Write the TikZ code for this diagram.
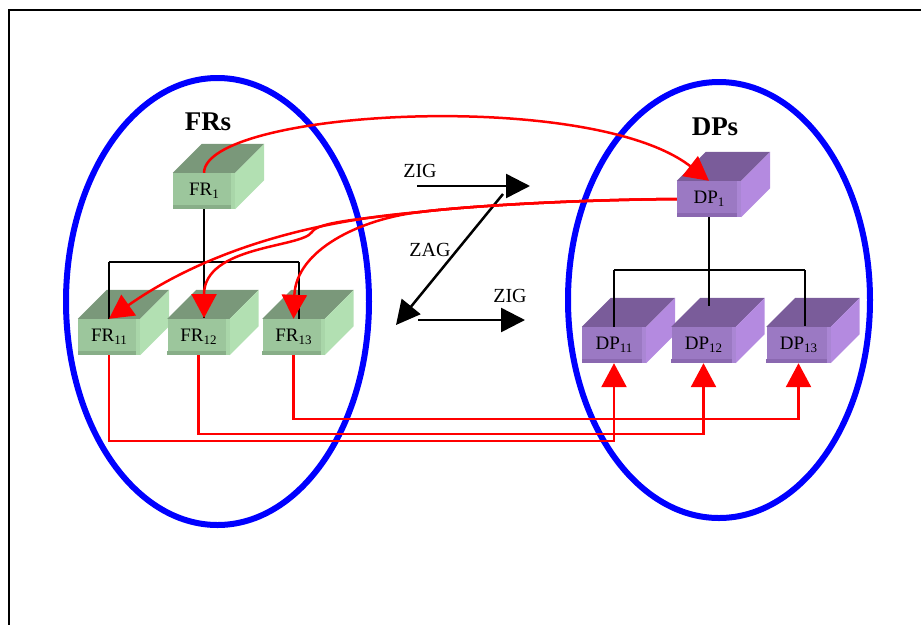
\documentclass[tikz,border=0pt]{standalone}
\usepackage{fontspec}
\setmainfont{Liberation Serif}
\usetikzlibrary{arrows.meta}
\definecolor{frF}{HTML}{9CC69C}
\definecolor{frT}{HTML}{7A987A}
\definecolor{frS}{HTML}{B2E0B2}
\definecolor{frB}{HTML}{88AE88}
\definecolor{frR}{HTML}{A9D6A9}
\definecolor{dpF}{HTML}{9B79C3}
\definecolor{dpT}{HTML}{7A5C9A}
\definecolor{dpS}{HTML}{B48AE0}
\definecolor{dpB}{HTML}{8A68B0}
\definecolor{dpR}{HTML}{AA86D4}
\newcommand\sbs[1]{\raisebox{-2.5pt}{\fontsize{13}{13}\selectfont #1}}
\newcommand\boxfaces[5]{%
  \fill[#2] (#1.north west) -- ++(29,-29) -- ([shift={(29,-29)}]#1.north east) -- (#1.north east) -- cycle;
  \fill[#3] (#1.north east) -- ++(29,-29) -- ([shift={(29,-29)}]#1.south east) -- (#1.south east) -- cycle;
  \fill[#4] (#1.south west) rectangle ([shift={(0,-4)}]#1.south east);
  \fill[#5] ([shift={(-4,0)}]#1.south east) rectangle (#1.north east);
}
\tikzset{
  frbox/.style={fill=frF, minimum width=62pt, minimum height=36pt, inner sep=0pt, font=\fontsize{19}{19}\selectfont},
  dpbox/.style={fill=dpF, minimum width=64pt, minimum height=36pt, inner sep=0pt, font=\fontsize{19}{19}\selectfont},
  redarr/.style={draw=red, line width=2.5pt, -{Triangle[length=24pt,width=25pt]}},
  tree/.style={draw=black, line width=2pt},
  zz/.style={draw=black, line width=2.5pt, -{Triangle[length=24pt,width=24pt]}},
  ell/.style={draw=blue, line width=6pt},
  lbl/.style={font=\fontsize{20}{20}\selectfont, inner sep=0pt},
  ttl/.style={font=\fontsize{27}{27}\selectfont\bfseries, inner sep=0pt}
}
\begin{document}
\begin{tikzpicture}[x=1pt,y=-1pt]
\useasboundingbox (0,0) rectangle (921,625);
% frame
\draw[line width=2pt] (921,10) -- (9,10) -- (9,625);
% ellipses
\draw[ell] (217.5,301.5) ellipse [x radius=151.5, y radius=223.5];
\draw[ell] (719,300) ellipse [x radius=151, y radius=218];
% titles
\node[ttl] (frs) at (208,122) {FRs};
\node[ttl] (dps) at (715,127) {DPs};
% FR boxes
\node[frbox] (FR1) at (204,191) {FR\sbs{1}};
\boxfaces{FR1}{frT}{frS}{frB}{frR}
\node[frbox] (FR11) at (109,337) {FR\sbs{11}};
\boxfaces{FR11}{frT}{frS}{frB}{frR}
\node[frbox] (FR12) at (198.5,337) {FR\sbs{12}};
\boxfaces{FR12}{frT}{frS}{frB}{frR}
\node[frbox] (FR13) at (293.5,337) {FR\sbs{13}};
\boxfaces{FR13}{frT}{frS}{frB}{frR}
% DP boxes
\node[dpbox] (DP1) at (709,199) {DP\sbs{1}};
\boxfaces{DP1}{dpT}{dpS}{dpB}{dpR}
\node[dpbox] (DP11) at (614,345) {DP\sbs{11}};
\boxfaces{DP11}{dpT}{dpS}{dpB}{dpR}
\node[dpbox] (DP12) at (703.5,345) {DP\sbs{12}};
\boxfaces{DP12}{dpT}{dpS}{dpB}{dpR}
\node[dpbox] (DP13) at (798.5,345) {DP\sbs{13}};
\boxfaces{DP13}{dpT}{dpS}{dpB}{dpR}
% FR tree
\coordinate (fj) at (204,262);
\coordinate (fl) at (109,262);
\coordinate (fr) at (299,262);
\coordinate (f12t) at (204,318);
\coordinate (f13t) at (299,319);
\draw[tree] (FR1.south) -- (fj);
\draw[tree] (fl) -- (fr);
\draw[tree] (fl) -- (FR11.north);
\draw[tree] (fj) -- (f12t);
\draw[tree] (fr) -- (f13t);
% DP tree
\coordinate (dj) at (709,270);
\coordinate (dl) at (614,270);
\coordinate (dr) at (805,270);
\coordinate (d12t) at (709,306);
\coordinate (d13t) at (805,326);
\draw[tree] (DP1.south) -- (dj);
\draw[tree] (dl) -- (dr);
\draw[tree] (dl) -- (DP11.north);
\draw[tree] (dj) -- (d12t);
\draw[tree] (dr) -- (d13t);
% zig zag
\coordinate (z1s) at (417,186);
\coordinate (z1e) at (530,186);
\coordinate (z2s) at (503,194);
\coordinate (z2e) at (396,325);
\coordinate (z3s) at (418,320);
\coordinate (z3e) at (525,320);
\draw[zz] (z1s) -- (z1e);
\draw[zz] (z2s) -- (z2e);
\draw[zz] (z3s) -- (z3e);
\node[lbl] (zig1) at (420,171) {ZIG};
\node[lbl] (zag) at (430,250) {ZAG};
\node[lbl] (zig2) at (510,296) {ZIG};
% red arrows top
\coordinate (fork) at (420,212);
\draw[redarr] (FR1.north) .. controls (205,110) and (590,88) .. (DP1.north);
\draw[redarr] (DP1.west) .. controls (560,200) and (460,207) .. (fork) .. controls (300,222) and (200,255) .. (FR11.north);
\draw[redarr] (DP1.west) .. controls (560,200) and (460,207) .. (fork) .. controls (360,219) and (318,222) .. (312,232) .. controls (302,248) and (204,245) .. (f12t);
\draw[redarr] (DP1.west) .. controls (560,200) and (460,207) .. (fork) .. controls (360,219) and (296,250) .. (FR13.north);
% red arrows bottom
\coordinate (b11) at (614,441);
\coordinate (b12) at (703.5,434);
\coordinate (b13) at (798.5,419);
\draw[redarr] (FR13.south) |- (b13) -- (DP13.south);
\draw[redarr] (FR12.south) |- (b12) -- (DP12.south);
\draw[redarr] (FR11.south) |- (b11) -- (DP11.south);
\end{tikzpicture}
\end{document}
